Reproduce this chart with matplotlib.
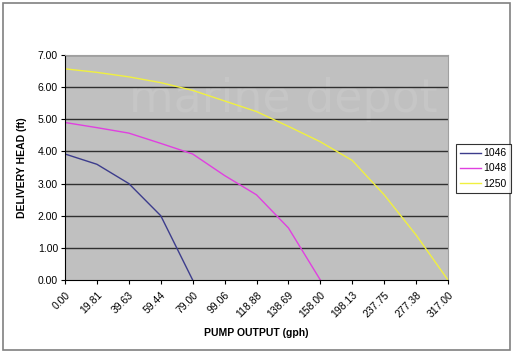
import matplotlib
matplotlib.use("Agg")
import matplotlib.pyplot as plt
from matplotlib.patches import Rectangle

categories = ["0.00", "19.81", "39.63", "59.44", "79.00", "99.06", "118.88",
              "138.69", "158.00", "198.13", "237.75", "277.38", "317.00"]
s1046 = [3.92, 3.60, 3.00, 2.00, 0.00]
s1048 = [4.90, 4.74, 4.57, 4.25, 3.92, 3.25, 2.65, 1.62, 0.00]
s1250 = [6.57, 6.46, 6.32, 6.14, 5.90, 5.57, 5.24, 4.78, 4.30, 3.72, 2.65, 1.40, 0.00]
y_ticks = [0, 1, 2, 3, 4, 5, 6, 7]

plt.rcParams['font.family'] = ['Liberation Sans', 'DejaVu Sans']

W, H = 515, 353
fig = plt.figure(figsize=(W / 100, H / 100), dpi=100)
fig.patch.set_facecolor('white')
fig.patches.append(Rectangle((3 / W, 3 / H), 507 / W, 347 / H, transform=fig.transFigure,
                             fill=False, edgecolor='#808080', linewidth=1.2))

left, right, top, bottom = 65, 448, 55, 280
ax = fig.add_axes([left / W, 1 - bottom / H, (right - left) / W, (bottom - top) / H])
ax.set_facecolor('#c0c0c0')

x = list(range(len(categories)))
ax.plot(x[:len(s1046)], s1046, color='#3c3c8c', lw=1.0, label='1046')
ax.plot(x[:len(s1048)], s1048, color='#e040e0', lw=1.0, label='1048')
ax.plot(x[:len(s1250)], s1250, color='#f0f040', lw=1.0, label='1250')

ax.set_xlim(0, len(categories) - 1)
ax.set_ylim(0, 7)
ax.set_yticks(y_ticks)
ax.set_yticklabels([f"{v:.2f}" for v in y_ticks], fontsize=7.5)
ax.set_xticks(x)
ax.set_xticklabels(categories, fontsize=7.5, rotation=45, ha='right',
                   rotation_mode='anchor')
ax.tick_params(axis='both', direction='out', length=3, width=0.8, colors='black', pad=2)
ax.tick_params(axis='x', pad=4)

for v in y_ticks[1:]:
    ax.axhline(v, color='#303030', lw=1.0, zorder=1)

ax.text(0.57, 0.8, "marine depot", transform=ax.transAxes, ha='center', va='center',
        fontsize=33, family='DejaVu Sans', color='#c6c6c6', zorder=0.5, clip_on=True)

for s in ['top', 'right']:
    ax.spines[s].set_color('#a0a0a0')
    ax.spines[s].set_linewidth(0.8)
for s in ['left', 'bottom']:
    ax.spines[s].set_color('black')
    ax.spines[s].set_linewidth(0.8)

ax.set_ylabel("DELIVERY HEAD (ft)", fontsize=7.5, fontweight='bold', labelpad=8)
ax.set_xlabel("PUMP OUTPUT (gph)", fontsize=7.5, fontweight='bold', labelpad=6)

leg = fig.legend(loc='upper left', bbox_to_anchor=(456 / W, 1 - 144 / H), fontsize=7.5,
                 frameon=True, fancybox=False, edgecolor='black', borderpad=0.4,
                 handlelength=2.0, handletextpad=0.2, labelspacing=0.5, borderaxespad=0)
leg.get_frame().set_linewidth(0.8)

fig.savefig("out.png", dpi=100, facecolor='white')
